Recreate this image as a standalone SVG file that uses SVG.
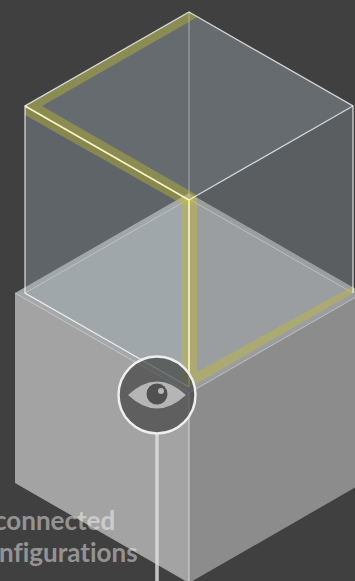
<svg xmlns="http://www.w3.org/2000/svg" width="355" height="581" viewBox="0 0 355 581">
<style>
.t{font-family:Lato,"Open Sans",sans-serif;font-weight:700;font-size:26px;fill:#fff;fill-opacity:.45;font-variant-ligatures:none}
.y{fill:#c3bb2c;fill-opacity:.4}
.e{fill:none;stroke:#fff;stroke-width:1.3;stroke-opacity:.75}
</style>
<rect width="355" height="581" fill="#404040"/>
<g id="base">
<polygon points="15,293 189,393 189,583 15,483" fill="#a3a3a3"/>
<polygon points="189,393 363,293 363,483 189,583" fill="#8c8c8c"/>
<line x1="189" y1="393" x2="189" y2="583" stroke="#d8d8d8" stroke-width="1"/>
</g>
<g id="cube">
<polygon points="25,106 189,200 25,293" fill="#5f6468"/>
<polygon points="189,200 353,106 353,293" fill="#5a5e61"/>
<polygon points="25,106 189,12 353,106 189,200" fill="#666b6f"/>
<polygon points="15,293 189,193 189,393" fill="#a0a7aa"/>
<polygon points="189,193 363,293 189,393" fill="#9b9ea1"/>
<polygon points="25,293 189,387 189,393 15,293" fill="#a5a8aa"/>
<polyline points="15,293 189,393 363,293" fill="none" stroke="#d8d8d8" stroke-width="1" stroke-opacity=".7"/>
<polyline points="25,293 189,199 353,293" fill="none" stroke="#ddd" stroke-width="1" stroke-opacity=".5"/>
<line x1="189" y1="12" x2="189" y2="199" stroke="#fff" stroke-width="1" stroke-opacity=".45"/>
</g>
<g id="highlight">
<polygon class="y" points="189,12 197,17 189,22 42,106 25,106"/>
<polygon class="y" points="25,106 42,106 197,195 189,208 25,115"/>
<polygon class="y" points="181,198 197,198 197,372 353,286 353,293 189,388 181,384"/>
</g>
<g id="edges">
<polyline class="e" points="189,387 25,293 25,106 189,12 353,106 353,293"/>
<polyline class="e" points="353,106 189,200"/>
<polyline points="25,106 189,200 189,387" fill="none" stroke="#fdf6c0" stroke-width="1.6"/>
</g>
<g id="labels">
<text class="t" x="-6" y="530">connected</text>
<text class="t" x="-1" y="562">nfigurations</text>
</g>
<g id="viewer">
<line x1="157" y1="434" x2="157" y2="581" stroke="#ddd" stroke-width="3.5" stroke-opacity=".85"/>
<circle cx="157" cy="395" r="38.5" fill="#404040" fill-opacity=".68" stroke="#eee" stroke-width="2.5"/>
<path d="M128,395 Q157,368 186,395 Q157,422 128,395Z" fill="#b5b5b5"/>
<circle cx="157" cy="394" r="10.5" fill="#505050"/>
<circle cx="161" cy="391" r="3" fill="#b5b5b5"/>
</g>
</svg>
